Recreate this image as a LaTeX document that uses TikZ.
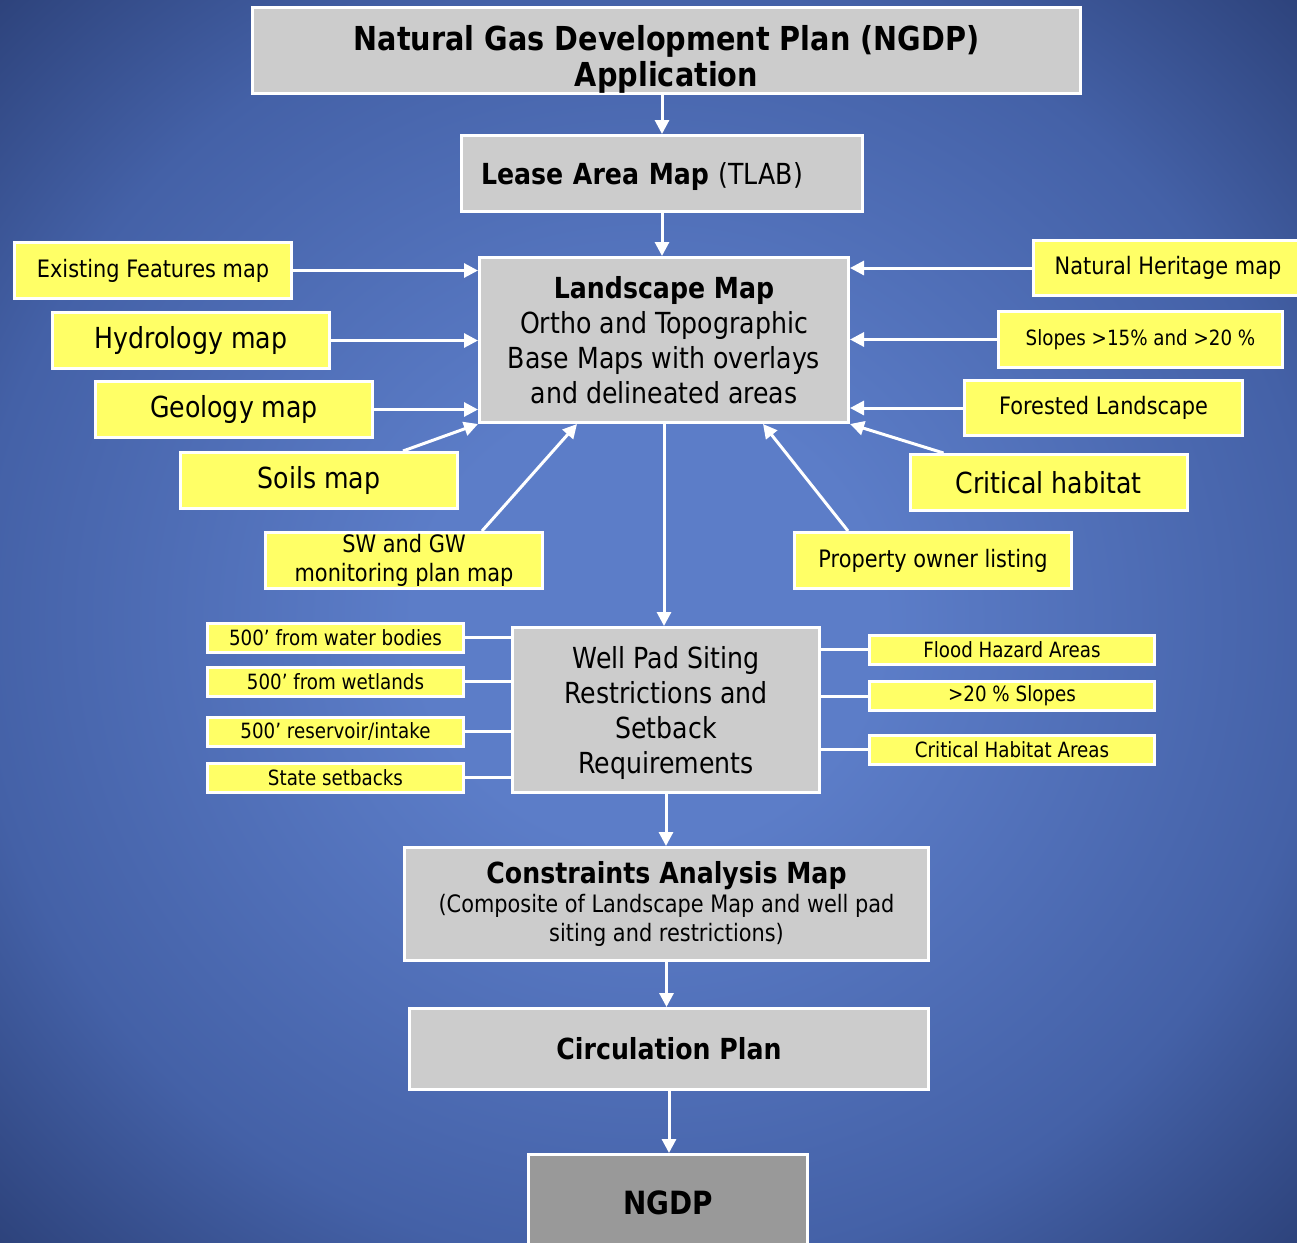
\documentclass[tikz,border=0pt]{standalone}
\usepackage{fontspec}
\setmainfont{DejaVu Sans}[FakeStretch=0.87]
\usetikzlibrary{arrows.meta, positioning}
\definecolor{bgin}{HTML}{5C7DC8}
\definecolor{bgmid}{HTML}{4461A7}
\definecolor{bgout}{HTML}{2C4179}
\definecolor{boxgray}{HTML}{CCCCCC}
\definecolor{boxdark}{HTML}{999999}
\definecolor{boxyel}{HTML}{FFFF66}
\pgfdeclareradialshading{bgglow}{\pgfpoint{0bp}{0bp}}{color(0bp)=(bgin); color(9bp)=(bgin); color(26bp)=(bgmid); color(36bp)=(bgout); color(50bp)=(bgout)}
\newcommand{\titlefnt}{\fontsize{33}{36}\selectfont}
\newcommand{\hugefnt}{\fontsize{32}{38}\selectfont}
\newcommand{\bigfnt}{\fontsize{29}{35}\selectfont}
\newcommand{\midfnt}{\fontsize{24}{29}\selectfont}
\newcommand{\smallfnt}{\fontsize{21}{25}\selectfont}
\tikzset{
  box/.style = {draw=white, line width=3pt, align=center, inner sep=0pt,
    text=black},
  gray_box/.style = {box, fill=boxgray},% grey step of the plan
  yel_box/.style = {box, fill=boxyel, minimum width=277pt,
    minimum height=56pt},% input map
  tag_box/.style = {box, fill=boxyel, minimum height=29pt,
    font=\smallfnt},% siting rule
  feed/.style = {white, line width=3pt, -{Triangle[length=14pt, width=14pt]}},
  tie/.style = {white, line width=3pt}
}
\begin{document}
\begin{tikzpicture}[x=1pt, y=-1pt]
\useasboundingbox (0,0) rectangle (1297,1242);
\shade [shading=bgglow] (0,0) rectangle (1297,1242);
% main chain
\node (title) [gray_box, minimum width=828pt, minimum height=82pt,
  font=\titlefnt\bfseries] at (666.5,50.5)
  {\rule{0pt}{43pt}Natural Gas Development Plan (NGDP)\\Application};
\node (lease) [gray_box, minimum width=401pt, minimum height=76pt,
  text width=362pt, align=left, font=\bigfnt] at (662,173.5)
  {\rule{0pt}{28pt}\textbf{Lease Area Map} (TLAB)};
\node (land) [gray_box, minimum width=369pt, minimum height=165pt,
  font=\bigfnt] at (664,340)
  {\textbf{Landscape Map}\\Ortho and Topographic\\Base Maps with overlays\\and delineated areas};
\node (well) [gray_box, minimum width=307pt, minimum height=165pt,
  font=\bigfnt] at (666,710)
  {\rule{0pt}{28pt}Well Pad Siting\\Restrictions and\\Setback\\Requirements};
\node (cons) [gray_box, minimum width=524pt, minimum height=113pt,
  font=\midfnt] at (666.5,904)
  {{\bigfnt\bfseries Constraints Analysis Map}\\(Composite of Landscape Map and well pad\\siting and restrictions)};
\node (circ) [gray_box, minimum width=519pt, minimum height=81pt,
  font=\bigfnt\bfseries] at (669,1049) {Circulation Plan};
\node (ngdp) [gray_box, fill=boxdark, minimum width=279pt, minimum height=97pt,
  font=\hugefnt\bfseries] at (668,1203) {NGDP};
% maps on the left
\node (exf) [yel_box, font=\midfnt] at (153,270.5) {Existing Features map};
\node (hyd) [yel_box, font=\bigfnt] at (191,340.5) {Hydrology map};
\node (geo) [yel_box, font=\bigfnt] at (234,409.5) {Geology map};
\node (soil) [yel_box, font=\bigfnt] at (319,480.5) {Soils map};
\node (swgw) [yel_box, font=\midfnt] at (404,560.5) {SW and GW\\monitoring plan map};
% maps on the right
\node (nhm) [yel_box, minimum width=270pt, minimum height=55pt,
  font=\midfnt] at (1168,268) {Natural Heritage map};
\node (slp) [yel_box, minimum width=284pt, font=\smallfnt] at (1140.5,339.5)
  {Slopes >15\% and >20 \%};
\node (for) [yel_box, minimum width=278pt, minimum height=55pt,
  font=\midfnt] at (1103.5,408) {Forested Landscape};
\node (crh) [yel_box, font=\bigfnt] at (1048.5,482.5) {Critical habitat};
\node (own) [yel_box, font=\midfnt] at (933,560.5) {Property owner listing};
% siting rules
\node (wb) [tag_box, minimum width=256pt] at (335.5,637.5) {500’ from water bodies};
\node (wl) [tag_box, minimum width=256pt] at (335.5,681.5) {500’ from wetlands};
\node (res) [tag_box, minimum width=256pt] at (335.5,731.5) {500’ reservoir/intake};
\node (sts) [tag_box, minimum width=256pt] at (335.5,777.5) {State setbacks};
\node (fha) [tag_box, minimum width=285pt] at (1012,649.5) {Flood Hazard Areas};
\node (slo) [tag_box, minimum width=285pt] at (1012,696) {>20 \% Slopes};
\node (cha) [tag_box, minimum width=285pt] at (1012,749.5) {Critical Habitat Areas};
% connectors
\draw [feed] (lease.north |- title.south) -- (lease.north);
\draw [feed] (lease.south) -- (lease.south |- land.north);
\draw [feed] (exf.east) -- (exf.east -| land.west);
\draw [feed] (hyd.east) -- (hyd.east -| land.west);
\draw [feed] (geo.east) -- (geo.east -| land.west);
\draw [feed] ([xshift=84pt]soil.north) -- (land.south west);
\draw [feed] ([xshift=78pt]swgw.north) -- ([xshift=-87pt]land.south);
\draw [feed] (nhm.west) -- (nhm.west -| land.east);
\draw [feed] (slp.west) -- (slp.west -| land.east);
\draw [feed] (for.west) -- (for.west -| land.east);
\draw [feed] ([xshift=-105pt]crh.north) -- (land.south east);
\draw [feed] ([xshift=-85pt]own.north) -- ([xshift=99pt]land.south);
\draw [feed] (land.south) -- (land.south |- well.north);
\foreach \t in {wb, wl, res, sts} \draw [tie] (\t.east) -- (\t.east -| well.west);
\foreach \t in {fha, slo, cha} \draw [tie] (\t.west) -- (\t.west -| well.east);
\draw [feed] (well.south) -- (well.south |- cons.north);
\draw [feed] (cons.south) -- (cons.south |- circ.north);
\draw [feed] (circ.south) -- (circ.south |- ngdp.north);
\end{tikzpicture}
\end{document}
